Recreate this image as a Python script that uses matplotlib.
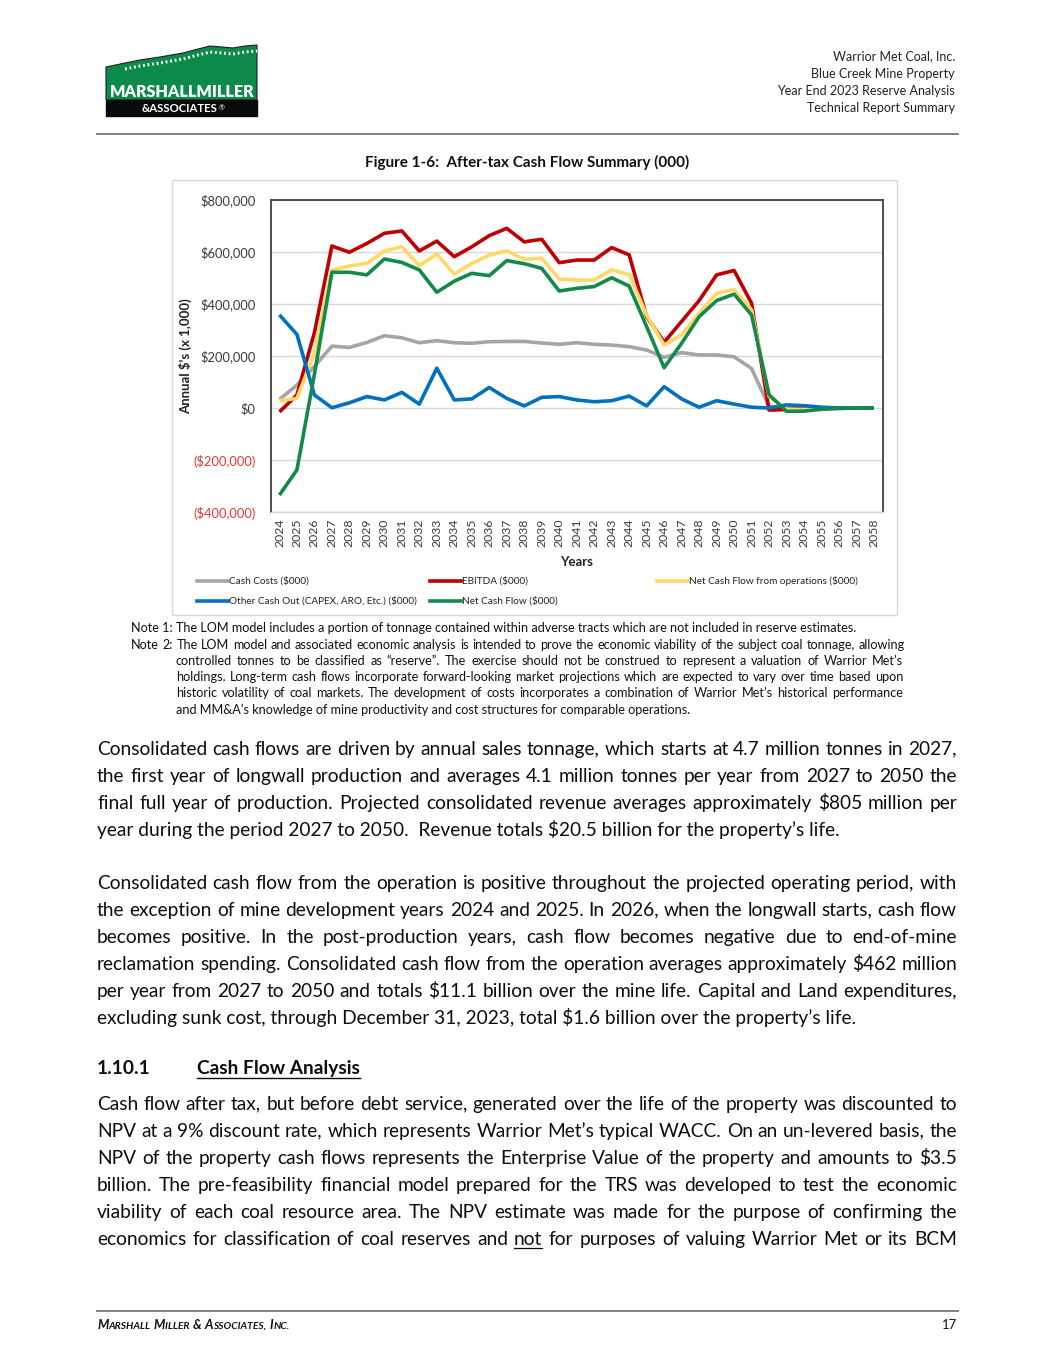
import matplotlib
matplotlib.use('Agg')
import matplotlib.pyplot as plt
from matplotlib.lines import Line2D
from matplotlib.patches import Rectangle, Polygon
from matplotlib.font_manager import FontProperties
from matplotlib.backends.backend_agg import get_hinting_flag
import numpy as np
import math

W, H = 1055, 1365
FONT = ['Lato', 'DejaVu Sans']
plt.rcParams['font.family'] = FONT

# ---------------- data (values in $000) ----------------
years = [str(y) for y in range(2024, 2059)]
cash_costs = [33, 88, 160, 238, 233, 252, 278, 270, 251, 259, 251, 249, 255, 256, 256,
              250, 245, 251, 245, 242, 236, 223, 195, 213, 204, 204, 197, 152, 5, 0,
              0, 0, 0, 0, 0]
ebitda = [-15, 50, 290, 623, 599, 633, 672, 681, 604, 642, 582, 620, 663, 691, 639,
          649, 559, 569, 569, 617, 589, 352, 253, 333, 413, 512, 529, 403, -8, -6,
          0, 0, 0, 0, 0]
ncf_ops = [28, 37, 210, 531, 546, 556, 604, 620, 547, 592, 515, 556, 588, 604, 572,
           576, 496, 492, 492, 531, 514, 358, 242, 281, 364, 441, 456, 377, 45, -5,
           -5, -2, 0, 0, 0]
other_out = [358, 283, 50, 1, 20, 44, 31, 60, 15, 153, 31, 35, 79, 37, 8,
             41, 44, 31, 24, 28, 46, 8, 82, 35, 3, 28, 15, 3, 0, 12,
             9, 3, 0, 0, 0]
net_cf = [-335, -238, 130, 522, 522, 512, 573, 560, 531, 445, 488, 518, 509, 567, 555,
          537, 450, 460, 467, 501, 469, 313, 155, 249, 351, 413, 438, 358, 51, -13,
          -12, -5, -2, 0, 0]
series_names = ['Cash Costs ($000)', 'EBITDA ($000)', 'Net Cash Flow from operations ($000)',
                'Other Cash Out (CAPEX, ARO, Etc.) ($000)', 'Net Cash Flow ($000)']
series_colors = ['#a5a5a5', '#c00000', '#ffd966', '#0070c0', '#138a4a']
ytick_vals = [-400000, -200000, 0, 200000, 400000, 600000, 800000]
ytick_labels = ['($400,000)', '($200,000)', '$0', '$200,000', '$400,000', '$600,000', '$800,000']

fig = plt.figure(figsize=(W / 100, H / 100), dpi=100)
fig.patch.set_facecolor('white')
R = fig.canvas.get_renderer()


def fx(x):
    return x / W


def fy(y):
    return 1 - y / H


def txt(x, y, s, fs, **kw):
    kw.setdefault('va', 'baseline')
    return fig.text(fx(x), fy(y), s, fontsize=fs, parse_math=False, **kw)


def width(s, fs, weight='normal', style='normal'):
    t = fig.text(0, 0, s, fontsize=fs, fontweight=weight, fontstyle=style, parse_math=False)
    w = t.get_window_extent(renderer=R).width
    t.remove()
    return w


def baseline_fix(word, fs, weight, B):
    """Integer pixel shift that cancels Agg's per-string rounding of the
    descent, so separately drawn words share one visual baseline."""
    try:
        prop = FontProperties(family=FONT, size=fs, weight=weight)
        font = R._prepare_font(prop)
        font.set_text(word, 0, flags=get_hinting_flag())
        d = font.get_descent() / 64.0
        w, h = font.get_width_height()
        A = h / 64.0 - d
        rendered = round(B + d) - (int(h) // 64) + math.floor(A)
        return round(B) - rendered
    except Exception:
        return 0


def hline(x0, x1, y, color, lw):
    fig.add_artist(Line2D([fx(x0), fx(x1)], [fy(y), fy(y)], color=color, lw=lw))


def fit_size(lines, x0, x1, fs, sp=0.25):
    best = fs
    for ln in lines:
        words = ln.split()
        nat = sum(width(w, fs) for w in words) + (len(words) - 1) * sp * fs * 1.389
        avail = x1 - x0
        if nat > avail:
            best = min(best, fs * avail / nat)
    return best


def justify(line, y, x0, x1, fs, color, underline=(), weight='normal'):
    words = line.split()
    ws = [width(w, fs, weight) for w in words]
    gap = (x1 - x0 - sum(ws)) / max(len(words) - 1, 1)
    x = x0
    for w, wd in zip(words, ws):
        k = baseline_fix(w, fs, weight, y)
        txt(x, y + k, w, fs, color=color, fontweight=weight)
        if w in underline:
            hline(x, x + wd, y + 2.5, color, 0.9)
        x += wd + gap


# ---------------- header ----------------
hdr = ['Warrior Met Coal, Inc.', 'Blue Creek Mine Property',
       'Year End 2023 Reserve Analysis', 'Technical Report Summary']
for i, s in enumerate(hdr):
    txt(955, [60, 78, 95, 112][i], s, 9, ha='right', color='#222222')
hline(97, 958, 134, '#808080', 1.4)

# logo
mount = [(106, 100), (106, 67), (125, 63), (140, 60), (160, 57), (183, 53), (198, 49),
         (210, 46), (222, 47), (233, 48), (245, 46), (257, 45), (257, 100)]
fig.add_artist(Polygon([(fx(a), fy(b)) for a, b in mount], closed=True,
                       facecolor='#0b8a4a', edgecolor='#1f1f1f', lw=0.8,
                       transform=fig.transFigure))
ridge = [(a, b + 6) for a, b in mount[2:-1]]
fig.add_artist(Line2D([fx(a) for a, b in ridge], [fy(b) for a, b in ridge],
                      color='white', lw=2.2, ls=(0, (0.6, 0.9)), transform=fig.transFigure))
fig.add_artist(Rectangle((fx(106), fy(116)), 151 / W, 16 / H, facecolor='#0a0a0a',
                         edgecolor='#0a0a0a', transform=fig.transFigure))
txt(182, 97, 'MARSHALLMILLER', 11.6, ha='center', color='white', fontweight='heavy')
txt(180, 112, '&ASSOCIATES', 8.2, ha='center', color='white', fontweight='bold')
txt(219, 110, '®', 5, ha='left', color='white')

# ---------------- figure title ----------------
txt(527, 167, 'Figure 1-6:  After-tax Cash Flow Summary (000)', 11, ha='center',
    fontweight='bold', color='#111111')

# chart frame
fig.add_artist(Rectangle((fx(172), fy(615)), (897 - 172) / W, (615 - 180) / H,
                         facecolor='none', edgecolor='#d9d9d9', lw=1.0,
                         transform=fig.transFigure))

# ---------------- chart ----------------
ax = fig.add_axes([fx(270.7), fy(512), (882.7 - 270.7) / W, (512 - 200) / H])
xs = np.arange(len(years))
for vals, col in zip([cash_costs, ebitda, ncf_ops, other_out, net_cf], series_colors):
    ax.plot(xs, np.array(vals) * 1000, color=col, lw=2.6, solid_joinstyle='round',
            solid_capstyle='butt', zorder=3)
ax.set_xlim(-0.5, len(years) - 0.5)
ax.set_ylim(-400000, 800000)
ax.set_yticks(ytick_vals)
ax.set_yticklabels(ytick_labels)
for lab, v in zip(ax.get_yticklabels(), ytick_vals):
    lab.set_color('#e53935' if v < 0 else '#3a3a3a')
    lab.set_fontsize(9.3)
ax.set_xticks(xs)
ax.set_xticklabels(years, rotation=90, fontsize=8.8, color='#3a3a3a')
ax.tick_params(axis='both', length=0)
ax.tick_params(axis='y', pad=11)
ax.tick_params(axis='x', pad=5)
ax.grid(axis='y', color='#d9d9d9', lw=1.0, zorder=0)
ax.set_axisbelow(True)
for s in ['top', 'left', 'right']:
    ax.spines[s].set_color('#404040')
    ax.spines[s].set_linewidth(1.3)
ax.spines['bottom'].set_color('#d9d9d9')
ax.spines['bottom'].set_linewidth(1.0)
ax.set_ylabel("Annual $'s (x 1,000)", fontsize=9.5, fontweight='bold', color='#222222')
ax.yaxis.set_label_coords((192 - 270.7) / 612, 0.5)
ax.set_xlabel('Years', fontsize=9.5, fontweight='bold', color='#222222')
ax.xaxis.set_label_coords(0.5, (512 - 556) / 312)

# legend (manual layout to match the reference columns)
leg_pos = [(197, 581), (430, 581), (657, 581), (197, 601), (430, 601)]
for (lx, ly), name, col in zip(leg_pos, series_names, series_colors):
    fig.add_artist(Line2D([fx(lx), fx(lx + 31)], [fy(ly), fy(ly)], color=col, lw=2.6,
                          transform=fig.transFigure))
    txt(lx + 32, ly, name, 7.2, va='center', color='#222222')

# ---------------- notes ----------------
note1 = 'Note 1: The LOM model includes a portion of tonnage contained within adverse tracts which are not included in reserve estimates.'
note2_first = 'Note 2: The LOM model and associated economic analysis is intended to prove the economic viability of the subject coal tonnage, allowing'
note2_rest = ['controlled tonnes to be classified as \u201creserve\u201d.  The exercise should not be construed to represent a valuation of Warrior Met\u2019s',
              'holdings.  Long-term cash flows incorporate forward-looking market projections which are expected to vary over time based upon',
              'historic volatility of coal markets.  The development of costs incorporates a combination of Warrior Met\u2019s historical performance']
note2_last = 'and MM&A\u2019s knowledge of mine productivity and cost structures for comparable operations.'
nfs = min(fit_size([note2_first], 131, 905, 9.8), fit_size(note2_rest, 176, 903, 9.8),
          fit_size([note1], 131, 860, 9.8))
txt(131, 632, note1, nfs, color='#111111')
justify(note2_first, 649, 131, 905, nfs, '#111111')
for i, ln in enumerate(note2_rest):
    justify(ln, 665 + 16 * i, 176, 903, nfs, '#111111')
txt(176, 714, note2_last, nfs, color='#111111')

# ---------------- body text ----------------
para1 = ['Consolidated cash flows are driven by annual sales tonnage, which starts at 4.7 million tonnes in 2027,',
         'the first year of longwall production and averages 4.1 million tonnes per year from 2027 to 2050 the',
         'final full year of production.  Projected consolidated revenue averages approximately $805 million per']
para1_last = 'year during the period 2027 to 2050.  Revenue totals $20.5 billion for the property\u2019s life.'
para2 = ['Consolidated cash flow from the operation is positive throughout the projected operating period, with',
         'the exception of mine development years 2024 and 2025.  In 2026, when the longwall starts, cash flow',
         'becomes positive.  In the post-production years, cash flow becomes negative due to end-of-mine',
         'reclamation spending.  Consolidated cash flow from the operation averages approximately $462 million',
         'per year from 2027 to 2050 and totals $11.1 billion over the mine life.  Capital and Land expenditures,']
para2_last = 'excluding sunk cost, through December 31, 2023, total $1.6 billion over the property\u2019s life.'
para3 = ['Cash flow after tax, but before debt service, generated over the life of the property was discounted to',
         'NPV at a 9% discount rate, which represents Warrior Met\u2019s typical WACC.  On an un-levered basis, the',
         'NPV of the property cash flows represents the Enterprise Value of the property and amounts to $3.5',
         'billion.  The pre-feasibility financial model prepared for the TRS was developed to test the economic',
         'viability of each coal resource area.  The NPV estimate was made for the purpose of confirming the',
         'economics for classification of coal reserves and not for purposes of valuing Warrior Met or its BCM']

BX0, BX1 = 97, 957
bfs = fit_size(para1 + para2 + para3, BX0, BX1, 14.5)
BC = '#0d0d0d'
for i, ln in enumerate(para1):
    justify(ln, 755 + 27 * i, BX0, BX1, bfs, BC)
txt(BX0, 755 + 27 * 3, para1_last, bfs, color=BC)
for i, ln in enumerate(para2):
    justify(ln, 889 + 27 * i, BX0, BX1, bfs, BC)
txt(BX0, 889 + 27 * 5, para2_last, bfs, color=BC)

# heading
txt(BX0, 1074, '1.10.1', bfs, color=BC, fontweight='bold')
txt(197, 1074, 'Cash Flow Analysis', bfs, color=BC, fontweight='bold')
hline(197, 197 + width('Cash Flow Analysis', bfs, 'bold'), 1077.5, BC, 1.0)

for i, ln in enumerate(para3):
    justify(ln, 1110 + 27 * i, BX0, BX1, bfs, BC,
            underline=('not',) if i == 5 else ())

# ---------------- footer ----------------
hline(97, 958, 1311, '#808080', 1.4)
segs = [('M', 9.4), ('ARSHALL ', 7.4), ('M', 9.4), ('ILLER ', 7.4), ('& ', 9.4),
        ('A', 9.4), ('SSOCIATES, ', 7.4), ('I', 9.4), ('NC.', 7.4)]
xx = 97
for s, f in segs:
    txt(xx, 1329, s, f, fontweight='bold', fontstyle='italic', color='#111111')
    wtrail = width(s.strip() + 'x', f, 'bold', 'italic') - width('x', f, 'bold', 'italic')
    xx += wtrail + (3.0 if s.endswith(' ') else 0.3)
txt(957, 1329, '17', 9.4, ha='right', color='#111111')

fig.savefig('out.png', dpi=100, facecolor='white')
